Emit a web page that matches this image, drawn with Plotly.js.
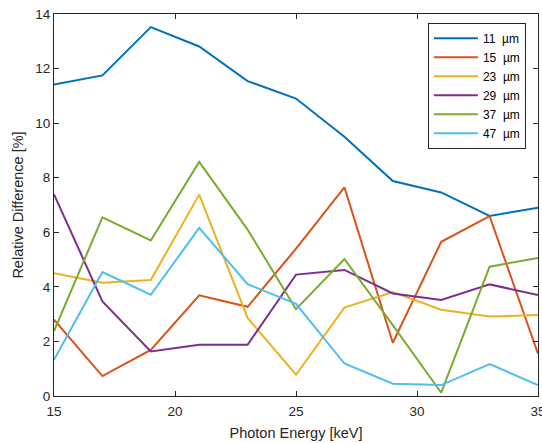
<!DOCTYPE html>
<html>
<head>
<meta charset="utf-8">
<script src="https://cdn.plot.ly/plotly-3.0.1.min.js"></script>
<style>html,body{margin:0;padding:0;background:#fff;}#chart{width:542px;height:443px;}</style>
</head>
<body>
<div id="chart"></div>
<script>
const energy = [15, 17, 19, 21, 23, 25, 27, 29, 31, 33, 35];
const seriesNames = ["11  µm", "15  µm", "23  µm", "29  µm", "37  µm", "47  µm"];
const d11 = [11.42, 11.75, 13.52, 12.81, 11.54, 10.9, 9.5, 7.88, 7.46, 6.6, 6.9];
const d15 = [2.8, 0.73, 1.69, 3.69, 3.27, 5.4, 7.65, 1.95, 5.65, 6.59, 1.55];
const d23 = [4.5, 4.15, 4.25, 7.38, 2.86, 0.78, 3.24, 3.81, 3.16, 2.91, 2.97];
const d29 = [7.39, 3.47, 1.63, 1.88, 1.88, 4.45, 4.62, 3.76, 3.52, 4.09, 3.7];
const d37 = [2.38, 6.55, 5.7, 8.58, 6.1, 3.18, 5.02, 2.6, 0.12, 4.74, 5.06];
const d47 = [1.33, 4.54, 3.71, 6.16, 4.1, 3.38, 1.19, 0.45, 0.4, 1.17, 0.4];
const colors = ["#0072BD", "#D95319", "#EDB120", "#7E2F8E", "#77AC30", "#4DBEEE"];

const allSeries = [d11, d15, d23, d29, d37, d47];
const traces = allSeries.map((ys, i) => ({
  x: energy, y: ys, type: "scatter", mode: "lines", name: seriesNames[i],
  line: {color: colors[i], width: 2}
}));

const axisCommon = {
  showgrid: false, zeroline: false, showline: true, mirror: "ticks",
  linecolor: "#262626", linewidth: 1, ticks: "inside", ticklen: 5,
  tickcolor: "#262626", ticklabeloverflow: "allow",
  tickfont: {family: "Liberation Sans, Arial, sans-serif", size: 13.5, color: "#262626"}
};

const layout = {
  width: 542, height: 443,
  margin: {l: 54, r: 4, t: 14, b: 47},
  paper_bgcolor: "#fff", plot_bgcolor: "#fff",
  font: {family: "Liberation Sans, Arial, sans-serif", color: "#262626"},
  xaxis: Object.assign({}, axisCommon, {
    range: [15, 35], tickvals: [15, 20, 25, 30, 35], ticklabelstandoff: 3,
    title: {text: "Photon Energy [keV]", font: {size: 14.5, color: "#262626"}, standoff: 9}
  }),
  yaxis: Object.assign({}, axisCommon, {
    range: [0, 14], tickvals: [0, 2, 4, 6, 8, 10, 12, 14],
    title: {text: "Relative Difference [%]", font: {size: 14.5, color: "#262626"}, standoff: 8}
  }),
  showlegend: true,
  legend: {
    x: 0.975, y: 0.977, xanchor: "right", yanchor: "top",
    bgcolor: "#fff", bordercolor: "#262626", borderwidth: 1,
    font: {family: "Liberation Sans, Arial, sans-serif", size: 12, color: "#000"},
    tracegroupgap: 0, itemwidth: 44
  }
};

Plotly.newPlot("chart", traces, layout, {displayModeBar: false, staticPlot: true});
</script>
</body>
</html>
